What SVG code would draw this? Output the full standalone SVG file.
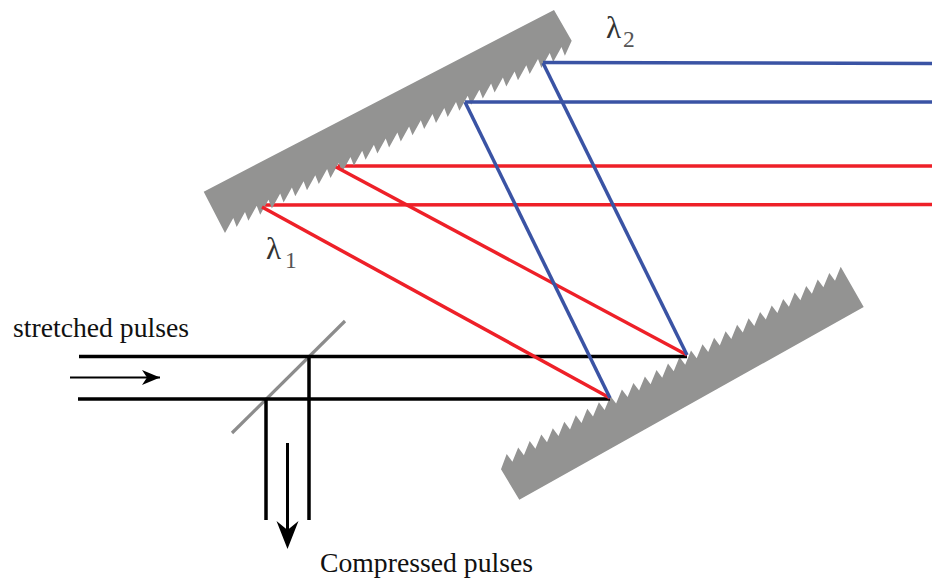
<svg xmlns="http://www.w3.org/2000/svg" width="932" height="584" viewBox="0 0 932 584">
<style>
.grating{fill:#939392;stroke:none}
.ray{fill:none;stroke-width:3.5}
.red{stroke:#ee2028}
.blue{stroke:#3a53a4}
.black{stroke:#000}
.splitter{stroke:#8c8c8c;stroke-width:3.2;fill:none}
.label{font-family:"Liberation Serif","Times New Roman",serif;font-size:27.7px;fill:#111}
.lambda{font-family:"Liberation Serif","Times New Roman",serif;font-size:31px;fill:#333}
.sub{font-family:"Liberation Serif","Times New Roman",serif;font-size:23.5px;fill:#555}
</style>
<defs>
<marker id="headS" markerUnits="userSpaceOnUse" markerWidth="20" markerHeight="16" refX="18" refY="8" orient="auto"><path d="M0,0.500 L18,8 L0,15.500 L5,8 Z" fill="#000"/></marker>
</defs>
<rect width="932" height="584" fill="#fff"/>
<g id="connectors-under">
<line class="ray red" x1="262" y1="205" x2="932" y2="204.500"/>
<line class="ray red" x1="338" y1="166" x2="932" y2="166"/>
</g>
<g id="grating-upper"><polygon class="grating" points="203.7,191.7 554,10 571.7,40.7 564.9,55.8 561.5,46.9 553.2,61.9 549.7,53 541.4,68 538,59.1 529.7,74.1 526.3,65.3 518,80.3 514.6,71.4 506.3,86.4 502.9,77.5 494.6,92.5 491.1,83.6 482.8,98.6 479.4,89.7 471.1,104.7 467.7,95.8 459.4,110.8 456,101.9 447.7,116.9 444.3,108 436,123 432.5,114.1 424.2,129.1 420.8,120.2 412.5,135.2 409.1,126.4 400.8,141.4 397.4,132.5 389.1,147.5 385.7,138.6 377.4,153.6 373.9,144.7 365.6,159.7 362.2,150.8 353.9,165.8 350.5,156.9 342.2,171.9 338.8,163 330.5,178 327.1,169.1 318.8,184.1 315.3,175.2 307,190.2 303.6,181.3 295.3,196.3 291.9,187.5 283.6,202.5 280.2,193.6 271.9,208.6 268.5,199.7 260.2,214.7 256.7,205.8 248.4,220.8 245,211.9 236.7,226.9 233.3,218 225,233"/></g>
<g id="grating-lower"><polygon class="grating" points="501,469.3 506.7,454 512.4,461.7 518.2,447.5 523.9,455.2 529.7,441.1 535.4,448.8 541.3,434.6 547,442.3 552.8,428.2 558.5,435.9 564.3,421.7 570,429.4 575.8,415.2 581.5,422.9 587.3,408.8 593,416.5 598.9,402.3 604.6,410 610.4,395.9 616.1,403.6 621.9,389.4 627.6,397.1 633.4,382.9 639.1,390.6 644.9,376.5 650.6,384.2 656.5,370 662.2,377.7 668,363.6 673.7,371.3 679.5,357.1 685.2,364.8 691,350.6 696.7,358.3 702.5,344.2 708.2,351.9 714.1,337.7 719.8,345.4 725.6,331.3 731.3,339 737.1,324.8 742.8,332.5 748.6,318.3 754.3,326 760.1,311.9 765.8,319.6 771.7,305.4 777.4,313.1 783.2,299 788.9,306.7 794.7,292.5 800.4,300.2 806.2,286 811.9,293.7 817.7,279.6 823.4,287.3 829.3,273.1 835,280.8 840.7,266.7 863.7,307 519.3,499.7"/></g>
<g id="splitter"><line class="splitter" x1="232" y1="433" x2="345" y2="321"/></g>
<g id="connectors">
<line class="ray black" x1="79" y1="356.500" x2="687" y2="356.500"/>
<line class="ray black" x1="78" y1="399" x2="610" y2="399"/>
<line class="ray black" x1="266" y1="399" x2="266" y2="520"/>
<line class="ray black" x1="309" y1="356.500" x2="309" y2="520"/>
<line class="ray red" x1="262" y1="207" x2="610" y2="398"/>
<line class="ray red" x1="336" y1="167" x2="687" y2="355"/>
<line class="ray blue" x1="543" y1="63" x2="687" y2="355"/>
<line class="ray blue" x1="465" y1="102" x2="610" y2="398"/>
<line class="ray blue" x1="543" y1="62.500" x2="932" y2="63.500"/>
<line class="ray blue" x1="465" y1="102" x2="932" y2="102"/>
<line x1="70" y1="377.500" x2="160" y2="377.500" stroke="#000" stroke-width="2" marker-end="url(#headS)"/>
<line x1="287.500" y1="443" x2="287.500" y2="532" stroke="#000" stroke-width="3"/>
<path d="M276.500,521 L287.500,549 L298.500,521 L287.500,530 Z" fill="#000"/>
</g>
<g id="label-stretched"><text class="label" x="13" y="337">stretched pulses</text></g>
<g id="label-compressed"><text class="label" x="320" y="572">Compressed pulses</text></g>
<g id="label-l1"><text class="lambda" x="266" y="259">λ</text><text class="sub" x="285" y="268">1</text></g>
<g id="label-l2"><text class="lambda" x="606" y="38">λ</text><text class="sub" x="623" y="47">2</text></g>
</svg>
